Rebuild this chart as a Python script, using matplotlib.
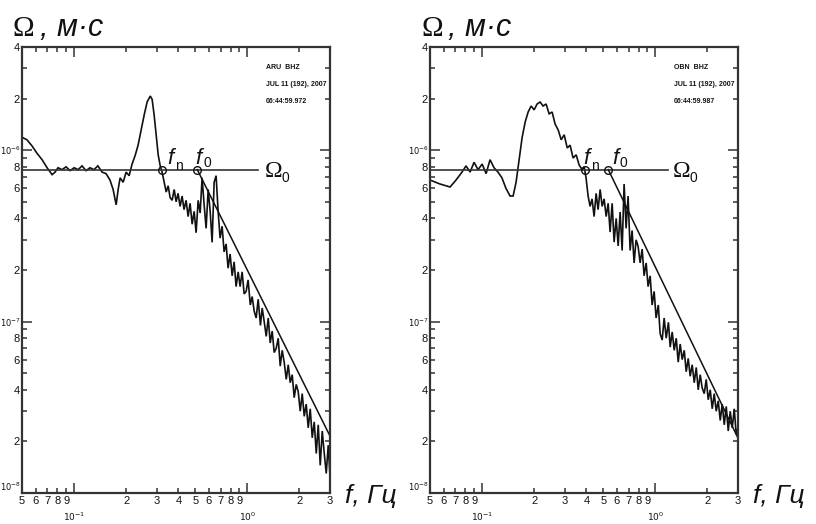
import matplotlib
matplotlib.use("Agg")
import matplotlib.pyplot as plt
from matplotlib.ticker import FixedLocator, FixedFormatter

# ---------------- data ----------------
left_freq = [0.05, 0.0534, 0.0571, 0.061, 0.0653, 0.0698, 0.0746, 0.0776, 0.0807, 0.0852,
             0.0898, 0.0947, 0.1, 0.1054, 0.1111, 0.1171, 0.1234, 0.1301, 0.1371, 0.145,
             0.1528, 0.161, 0.1679, 0.1748, 0.1795, 0.1843, 0.1918, 0.1996, 0.2077, 0.216,
             0.2249, 0.234, 0.2436, 0.2535, 0.2638, 0.275, 0.282, 0.2897, 0.2975, 0.3056,
             0.314, 0.322, 0.331, 0.340, 0.349, 0.358, 0.368, 0.378, 0.388, 0.398,
             0.409, 0.42, 0.431, 0.443, 0.455, 0.467, 0.48, 0.493, 0.506, 0.52,
             0.534, 0.548, 0.563, 0.578, 0.594, 0.61, 0.626, 0.643, 0.66, 0.678,
             0.696, 0.715, 0.734, 0.754, 0.774, 0.795, 0.817, 0.839, 0.861, 0.885,
             0.908, 0.933, 0.958, 0.984, 1.01, 1.04, 1.066, 1.095, 1.124, 1.155,
             1.19, 1.218, 1.251, 1.285, 1.32, 1.355, 1.391, 1.429, 1.468, 1.507,
             1.548, 1.589, 1.632, 1.677, 1.722, 1.768, 1.815, 1.864, 1.915, 1.966,
             2.02, 2.074, 2.13, 2.187, 2.246, 2.307, 2.369, 2.433, 2.499, 2.566,
             2.635, 2.706, 2.78, 2.854, 2.93, 3.0]
left_amp = [1.19e-6, 1.15e-6, 1.06e-6, 9.6e-7, 8.8e-7, 7.9e-7, 7.2e-7, 7.45e-7, 7.9e-7, 7.7e-7,
            8.0e-7, 7.6e-7, 7.9e-7, 7.7e-7, 8.1e-7, 7.6e-7, 7.9e-7, 7.7e-7, 8.1e-7, 7.45e-7,
            7.3e-7, 6.7e-7, 5.9e-7, 4.8e-7, 5.9e-7, 6.9e-7, 6.5e-7, 7.45e-7, 7.1e-7, 8.3e-7,
            9.3e-7, 1.07e-6, 1.31e-6, 1.6e-6, 1.91e-6, 2.07e-6, 1.98e-6, 1.6e-6, 1.23e-6, 9.4e-7,
            8.1e-7, 7.45e-7, 6.5e-7, 5.7e-7, 6.2e-7, 5.3e-7, 5.1e-7, 5.9e-7, 5.0e-7, 5.6e-7,
            4.7e-7, 5.4e-7, 4.5e-7, 5.1e-7, 4.1e-7, 4.9e-7, 3.7e-7, 4.4e-7, 3.3e-7, 5.1e-7,
            4.3e-7, 6.9e-7, 4.8e-7, 3.5e-7, 5.9e-7, 4.4e-7, 2.9e-7, 6.5e-7, 7.1e-7, 4.4e-7,
            3.07e-7, 3.6e-7, 2.55e-7, 2.84e-7, 2.05e-7, 2.48e-7, 1.85e-7, 2.23e-7, 1.6e-7, 1.95e-7,
            1.6e-7, 1.95e-7, 1.45e-7, 1.5e-7, 1.75e-7, 1.25e-7, 1.4e-7, 1.15e-7, 1.05e-7, 1.35e-7,
            9.5e-8, 1.2e-7, 1.0e-7, 8.2e-8, 1.05e-7, 7.5e-8, 8.8e-8, 6.6e-8, 7.0e-8, 8.0e-8,
            5.5e-8, 6.8e-8, 5.8e-8, 4.6e-8, 5.6e-8, 4.4e-8, 4.9e-8, 3.6e-8, 4.3e-8, 3.9e-8,
            3.0e-8, 3.8e-8, 2.8e-8, 3.3e-8, 2.4e-8, 3.1e-8, 2.1e-8, 2.6e-8, 1.7e-8, 2.5e-8,
            1.45e-8, 2.3e-8, 1.7e-8, 1.3e-8, 1.9e-8, 1.25e-8]

right_freq = [0.05, 0.0571, 0.0653, 0.0707, 0.0765, 0.0807, 0.0852, 0.0898, 0.0947, 0.1,
              0.1054, 0.1111, 0.1171, 0.1234, 0.1301, 0.1371, 0.145, 0.1509, 0.157, 0.1635,
              0.170, 0.1772, 0.1843, 0.1918, 0.1996, 0.2077, 0.216, 0.2249, 0.234, 0.2436,
              0.2535, 0.2638, 0.275, 0.286, 0.2975, 0.310, 0.322, 0.335, 0.349, 0.363,
              0.378, 0.388, 0.398, 0.409, 0.42, 0.431, 0.443, 0.455, 0.467, 0.48,
              0.493, 0.506, 0.52, 0.534, 0.548, 0.563, 0.578, 0.594, 0.61, 0.626,
              0.643, 0.66, 0.678, 0.696, 0.715, 0.734, 0.754, 0.774, 0.795, 0.817,
              0.839, 0.861, 0.885, 0.908, 0.933, 0.958, 0.984, 1.01, 1.04, 1.066,
              1.095, 1.124, 1.155, 1.19, 1.218, 1.251, 1.285, 1.32, 1.355, 1.391,
              1.429, 1.468, 1.507, 1.548, 1.589, 1.632, 1.677, 1.722, 1.768, 1.815,
              1.864, 1.915, 1.966, 2.02, 2.074, 2.13, 2.187, 2.246, 2.307, 2.369,
              2.433, 2.499, 2.566, 2.635, 2.706, 2.78, 2.854, 2.93, 3.0]
right_amp = [6.7e-7, 6.35e-7, 6.1e-7, 6.7e-7, 7.45e-7, 8.1e-7, 7.45e-7, 8.5e-7, 7.7e-7, 8.3e-7,
             7.3e-7, 8.8e-7, 7.9e-7, 7.45e-7, 6.9e-7, 6.0e-7, 5.4e-7, 5.4e-7, 6.5e-7, 8.8e-7,
             1.18e-6, 1.46e-6, 1.67e-6, 1.81e-6, 1.72e-6, 1.86e-6, 1.91e-6, 1.81e-6, 1.86e-6, 1.63e-6,
             1.67e-6, 1.42e-6, 1.31e-6, 1.15e-6, 1.23e-6, 1.03e-6, 1.07e-6, 9.0e-7, 9.4e-7, 8.2e-7,
             7.7e-7, 8.0e-7, 6.9e-7, 5.4e-7, 4.7e-7, 5.2e-7, 4.1e-7, 5.6e-7, 4.5e-7, 5.9e-7,
             4.7e-7, 5.2e-7, 4.1e-7, 4.9e-7, 3.33e-7, 4.9e-7, 2.91e-7, 4.0e-7, 2.76e-7, 4.36e-7,
             2.6e-7, 6.35e-7, 3.5e-7, 5.4e-7, 2.6e-7, 3.4e-7, 2.2e-7, 3.0e-7, 2.75e-7, 2.2e-7,
             2.65e-7, 1.85e-7, 2.2e-7, 1.6e-7, 1.85e-7, 1.25e-7, 1.5e-7, 1.05e-7, 1.25e-7, 8.5e-8,
             7.8e-8, 1.05e-7, 8.0e-8, 9.9e-8, 7.1e-8, 8.7e-8, 6.8e-8, 8.0e-8, 5.8e-8, 7.4e-8,
             6.0e-8, 6.8e-8, 5.1e-8, 6.1e-8, 4.8e-8, 5.6e-8, 4.4e-8, 5.4e-8, 4.0e-8, 4.9e-8,
             4.1e-8, 3.8e-8, 4.6e-8, 3.5e-8, 4.0e-8, 3.1e-8, 3.8e-8, 3.0e-8, 3.45e-8, 2.65e-8,
             3.3e-8, 2.5e-8, 3.2e-8, 2.3e-8, 3.0e-8, 2.4e-8, 3.1e-8, 2.2e-8, 2.4e-8]

omega0_level = [7.7e-7, 7.7e-7]          # plateau level (left, right)
omega0_line_end = [1.15, 1.19]           # where the Omega0 line stops, Hz
fn_freq = [0.322, 0.394]                 # f_n (left, right)
f0_freq = [0.514, 0.535]                 # f_0 (left, right)
slope_end_freq = [3.0, 3.0]
slope_end_amp = [2.15e-8, 2.09e-8]

station_info = [["ARU  BHZ", "JUL 11 (192), 2007", "06:44:59.972"],
                ["OBN  BHZ", "JUL 11 (192), 2007", "06:44:59.987"]]

x_minor = [0.05, 0.06, 0.07, 0.08, 0.09, 0.2, 0.3, 0.4, 0.5, 0.6, 0.7, 0.8, 0.9, 2, 3]
x_minor_labels = ["5", "6", "7", "8", "9", "2", "3", "4", "5", "6", "7", "8", "9", "2", "3"]
x_major = [0.1, 1.0]
x_major_labels = [r"$10^{-1}$", r"$10^{0}$"]
y_major = [1e-8, 1e-7, 1e-6]
y_major_labels = [r"$10^{-8}$", r"$10^{-7}$", r"$10^{-6}$"]
y_minor = [2e-8, 3e-8, 4e-8, 5e-8, 6e-8, 7e-8, 8e-8, 9e-8,
           2e-7, 3e-7, 4e-7, 5e-7, 6e-7, 7e-7, 8e-7, 9e-7,
           2e-6, 3e-6, 4e-6]
y_minor_labels = ["2", "", "4", "", "6", "", "8", "",
                  "2", "", "4", "", "6", "", "8", "",
                  "2", "", "4"]

# ---------------- figure ----------------
W, H = 816, 524
fig = plt.figure(figsize=(W / 100, H / 100), dpi=100)
fig.patch.set_facecolor("white")

NARROW = ["Liberation Sans Narrow", "Liberation Sans", "DejaVu Sans"]
INK = "#111111"


def fx(px):
    return px / W


def fy(py):
    return 1 - py / H


def make_axes(x0):
    ax = fig.add_axes([fx(x0), fy(493), 308 / W, 446 / H])
    ax.set_xscale("log")
    ax.set_yscale("log")
    ax.set_xlim(0.05, 3.0)
    ax.set_ylim(1e-8, 4e-6)
    ax.xaxis.set_major_locator(FixedLocator(x_major))
    ax.xaxis.set_major_formatter(FixedFormatter(x_major_labels))
    ax.xaxis.set_minor_locator(FixedLocator(x_minor))
    ax.xaxis.set_minor_formatter(FixedFormatter(x_minor_labels))
    ax.yaxis.set_major_locator(FixedLocator(y_major))
    ax.yaxis.set_major_formatter(FixedFormatter(y_major_labels))
    ax.yaxis.set_minor_locator(FixedLocator(y_minor))
    ax.yaxis.set_minor_formatter(FixedFormatter(y_minor_labels))
    ax.tick_params(which="both", direction="in", top=True, right=True,
                   colors="#333333", width=1.1, labelsize=8)
    ax.tick_params(which="minor", length=3.5, pad=1.5)
    ax.tick_params(which="major", length=7)
    ax.tick_params(axis="x", which="major", pad=13, labelsize=6.5)
    ax.tick_params(axis="x", which="minor", pad=2.5)
    ax.tick_params(axis="y", which="major", pad=1, labelsize=6)
    ax.tick_params(axis="y", which="minor", pad=1.5)
    for lab in ax.get_xticklabels(which="both") + ax.get_yticklabels(which="both"):
        lab.set_family(NARROW)
        lab.set_color(INK)
    # lift the bottom decade label so it clears the first x label
    ax.yaxis.get_major_ticks()[0].label1.set_verticalalignment("bottom")
    for sp in ax.spines.values():
        sp.set_color("#333333")
        sp.set_linewidth(1.6)
    ax.set_facecolor("white")
    return ax


panels = [(22, left_freq, left_amp), (430, right_freq, right_amp)]
for i, (x0, fr, am) in enumerate(panels):
    ax = make_axes(x0)
    ax.plot(fr, am, color=INK, lw=1.2, solid_joinstyle="miter")
    # Omega0 level line
    ax.plot([0.05, omega0_line_end[i]], [omega0_level[i], omega0_level[i]],
            color="#333333", lw=1.2)
    # omega-square slope
    ax.plot([f0_freq[i], slope_end_freq[i]], [omega0_level[i], slope_end_amp[i]],
            color=INK, lw=1.1)
    ax.plot([fn_freq[i], f0_freq[i]], [omega0_level[i], omega0_level[i]], "o",
            ms=5.5, mfc="none", mec=INK, mew=1.0)

    # station info
    for k, line in enumerate(station_info[i]):
        fig.text(fx(x0 + 244), fy(69 + k * 17), line, family=NARROW,
                 fontweight="bold", fontsize=5, color=INK, va="baseline")

    # axis titles
    fig.text(fx(x0 - 9), fy(36), "Ω", family="Liberation Serif", fontsize=21,
             color=INK, va="baseline")
    fig.text(fx(x0 + 18), fy(36), ", м·с", family="Liberation Sans", style="italic",
             fontsize=22, color=INK, va="baseline")
    fig.text(fx(x0 + 323), fy(503), "f, Гц", family="Liberation Sans", style="italic",
             fontsize=19, color=INK, va="baseline")

    # f_n, f_0, Omega_0 labels
    fn_dx = [145, 153][i]
    f0_dx = [173, 182][i]
    om_dx = [243, 243][i]
    fig.text(fx(x0 + fn_dx), fy(164), "f", family="Liberation Sans", style="italic",
             fontsize=16, color=INK, va="baseline")
    fig.text(fx(x0 + fn_dx + 8), fy(170), "n", family="Liberation Sans",
             fontsize=10, color=INK, va="baseline")
    fig.text(fx(x0 + f0_dx), fy(164), "f", family="Liberation Sans", style="italic",
             fontsize=16, color=INK, va="baseline")
    fig.text(fx(x0 + f0_dx + 8), fy(167), "0", family="Liberation Sans",
             fontsize=10, color=INK, va="baseline")
    fig.text(fx(x0 + om_dx), fy(177), "Ω", family="Liberation Serif",
             fontsize=17, color=INK, va="baseline")
    fig.text(fx(x0 + om_dx + 16), fy(182), "0", family="Liberation Sans",
             fontsize=10, color=INK, va="baseline")

fig.savefig("out.png", dpi=100, facecolor="white")
